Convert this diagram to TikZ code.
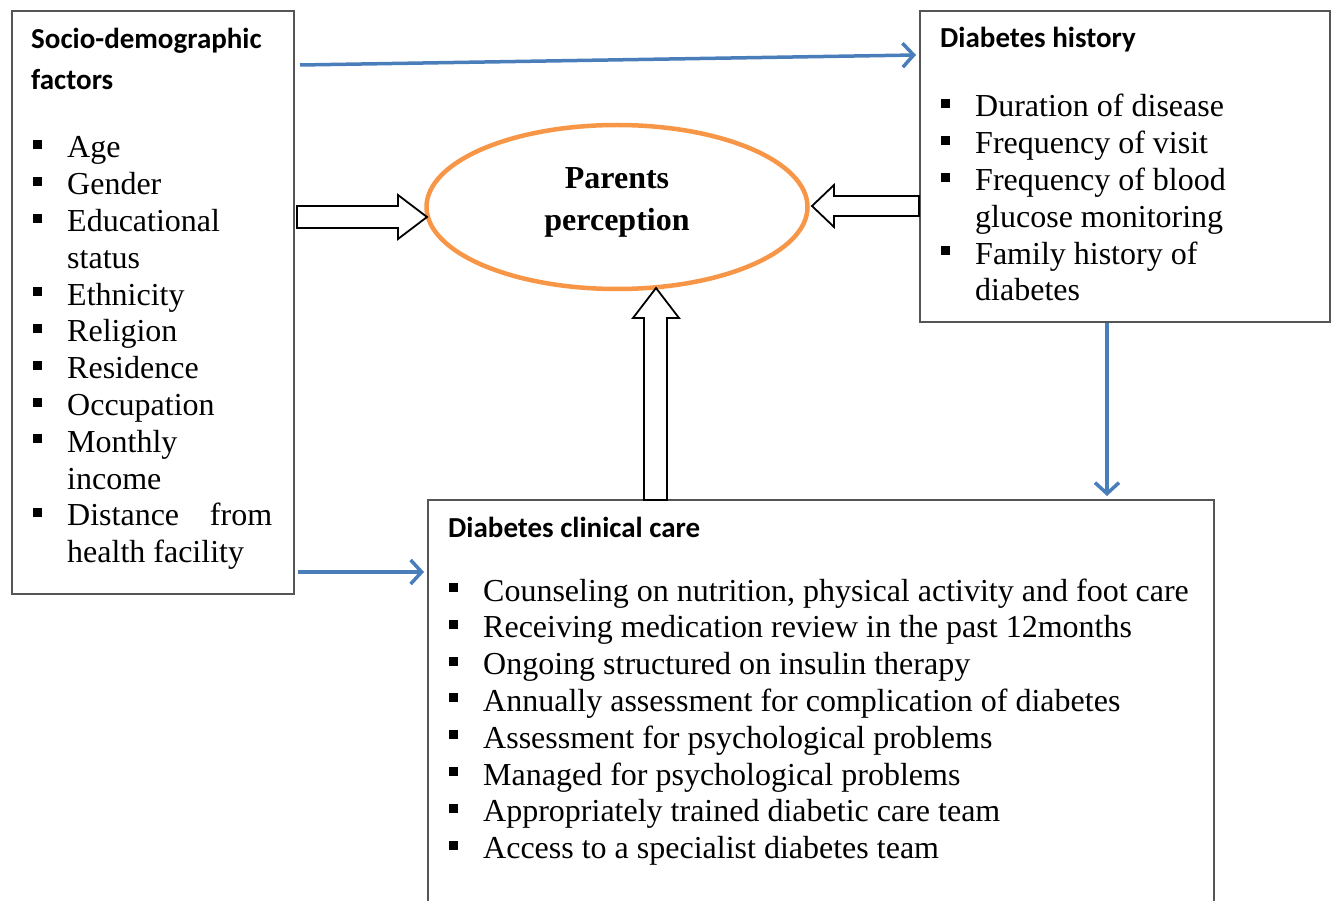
\documentclass[tikz,border=0pt]{standalone}
\usepackage{fontspec}
\setmainfont{Liberation Serif}
\newfontfamily\calibri{Carlito}
\usetikzlibrary{arrows.meta,positioning,shapes.geometric}

\definecolor{linkblue}{RGB}{74,126,187}
\definecolor{ovalorange}{RGB}{247,150,70}
\definecolor{boxgray}{RGB}{85,85,85}
\newcommand{\sqbul}{\rule[9pt]{9pt}{9pt}}

\tikzset{
  factorbox/.style={draw=boxgray, line width=2pt, rectangle, anchor=north west, inner sep=0pt},
  heading/.style={anchor=base west, inner sep=0pt, font=\calibri\bfseries\fontsize{29}{41}\selectfont},
  itemlist/.style={anchor=base west, inner sep=0pt, font=\fontsize{32}{36.8}\selectfont},
  link/.style={draw=linkblue, line width=3.5pt, -{Straight Barb[length=11pt,width=24pt]}},
  fatarrow/.style={draw, line width=1.8pt, fill=white, line join=miter},
}

\begin{document}
\begin{tikzpicture}[x=1pt,y=-1pt]
\useasboundingbox (0,0) rectangle (1335,901);
\clip (0,0) rectangle (1335,901);

% boxes
\node[factorbox, minimum width=282pt, minimum height=583pt] (socio) at (11,10) {};
\node[factorbox, minimum width=410pt, minimum height=311pt] (hist) at (919,10) {};
\node[factorbox, minimum width=786pt, minimum height=520pt] (care) at (427,499) {};
\node[draw=ovalorange, line width=4.5pt, ellipse, minimum width=381pt, minimum height=164pt] (percept) at (617,207) {};

% texts
\node[heading] (sociohead) at (31,49) {\begin{tabular}[t]{@{}l@{}}Socio-demographic\\factors\end{tabular}};
\node[itemlist] (sociolist) at (33,158) {\begin{tabular}[t]{@{}l@{\hspace{25pt}}l@{}}
\sqbul & Age\\
\sqbul & Gender\\
\sqbul & Educational\\
       & status\\
\sqbul & Ethnicity\\
\sqbul & Religion\\
\sqbul & Residence\\
\sqbul & Occupation\\
\sqbul & Monthly\\
       & income\\
\sqbul & \makebox[205pt][s]{Distance\hfill from}\\
       & health facility
\end{tabular}};

\node[heading] (histhead) at (940,48) {Diabetes history};
\node[itemlist] (histlist) at (941,117) {\begin{tabular}[t]{@{}l@{\hspace{25pt}}l@{}}
\sqbul & Duration of disease\\
\sqbul & Frequency of visit\\
\sqbul & Frequency of blood\\
       & glucose monitoring\\
\sqbul & Family history of\\
       & diabetes
\end{tabular}};

\node[heading] (carehead) at (448,537) {Diabetes clinical care};
\node[itemlist] (carelist) at (449,601) {\begin{tabular}[t]{@{}l@{\hspace{25pt}}l@{}}
\sqbul & Counseling on nutrition, physical activity and foot care\\
\sqbul & Receiving medication review in the past 12months\\
\sqbul & Ongoing structured on insulin therapy\\
\sqbul & Annually assessment for complication of diabetes\\
\sqbul & Assessment for psychological problems\\
\sqbul & Managed for psychological problems\\
\sqbul & Appropriately trained diabetic care team\\
\sqbul & Access to a specialist diabetes team
\end{tabular}};

\node[anchor=base, inner sep=0pt, font=\bfseries\fontsize{32}{42}\selectfont] (percepttext) at (617,189)
  {\begin{tabular}[t]{@{}c@{}}Parents\\perception\end{tabular}};

% block arrows into the oval
\draw[fatarrow] (297,206) -- (398,206) -- (398,195) -- (427,217) -- (398,239) -- (398,228) -- (297,228) -- cycle;
\draw[fatarrow] (919,196) -- (834,196) -- (834,185) -- (812,206) -- (834,227) -- (834,216) -- (919,216) -- cycle;
\draw[fatarrow] (644,500) -- (644,318) -- (633,318) -- (656,288) -- (679,318) -- (667,318) -- (667,500) -- cycle;

% links
\draw[link] ([shift={(5,55)}]socio.north east) -- ([shift={(-3,45)}]hist.north west);
\draw[link] ([shift={(3,562)}]socio.north east) -- ([shift={(-3,73)}]care.north west);
\draw[link] ([xshift=-18pt]hist.south) -- ([shift={(286,-3)}]care.north);
\end{tikzpicture}
\end{document}
